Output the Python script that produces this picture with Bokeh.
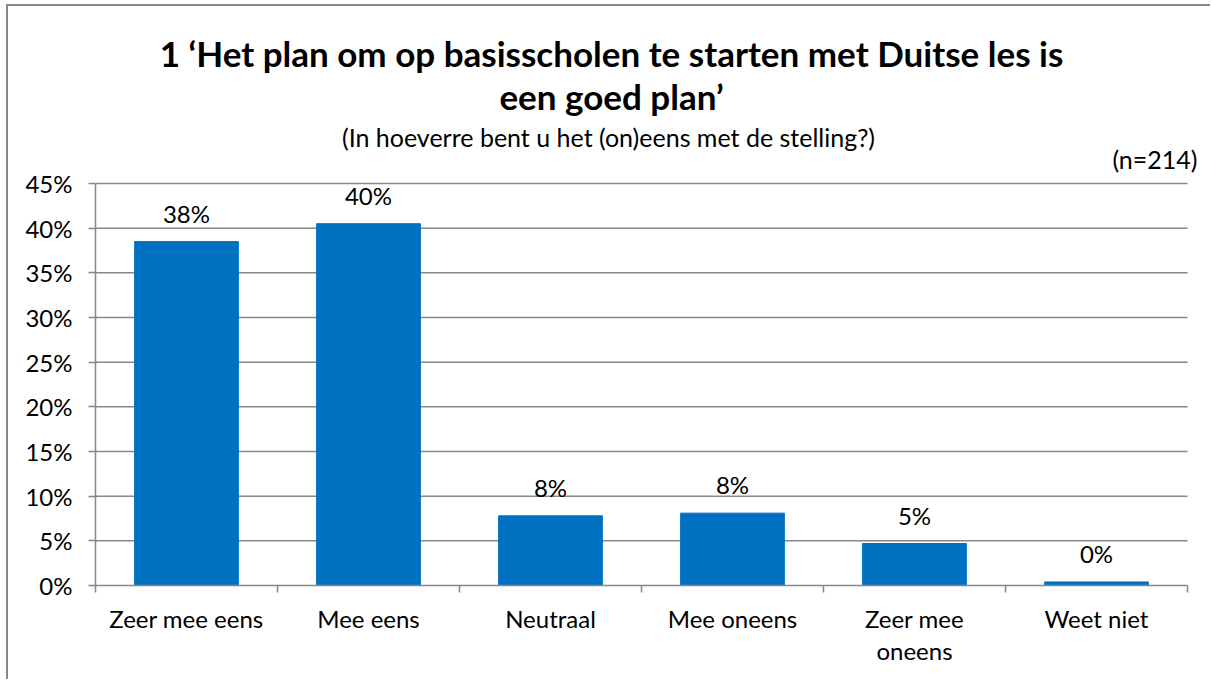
from bokeh.plotting import figure
from bokeh.models import (FixedTicker, NumeralTickFormatter, Label,
                          ColumnDataSource, LabelSet, Range1d)
from bokeh.core.properties import value
from bokeh.embed import file_html
from bokeh.resources import INLINE

categories = ["Zeer mee eens", "Mee eens", "Neutraal", "Mee oneens", "Zeer mee\noneens", "Weet niet"]
values = [0.385, 0.405, 0.078, 0.081, 0.047, 0.004]
value_labels = ["38%", "40%", "8%", "8%", "5%", "0%"]
y_ticks = [0.0, 0.05, 0.10, 0.15, 0.20, 0.25, 0.30, 0.35, 0.40, 0.45]

title1 = "1 \u2018Het plan om op basisscholen te starten met Duitse les is"
title2 = "een goed plan\u2019"
subtitle = "(In hoeverre bent u het (on)eens met de stelling?)"
n_text = "(n=214)"

FONT = "Lato"
GRAY = "#878787"
BLUE = "#0070C0"

n = len(categories)
y_max = y_ticks[-1]
OFF_X, OFF_Y = 8, 6
W, H = 1212 - OFF_X, 681 - OFF_Y
LEFT = 95 - OFF_X
BOTTOM = 96
frame_h = H - BOTTOM
frame_w = W - LEFT
cat_px = 182.0
px_per_y = 402.0 / y_max

x_end = frame_w / cat_px
y_end = frame_h / px_per_y

def ypix(py):
    return (585 - py) / px_per_y

def xpix(px):
    return (px - 95) / cat_px

xs = [i + 0.5 for i in range(n)]
src = ColumnDataSource(dict(x=xs, top=values, lab=value_labels))

p = figure(width=W, height=H, output_backend="svg", toolbar_location=None,
           x_range=Range1d(0, x_end), y_range=Range1d(0, y_end),
           min_border_left=LEFT, min_border_right=0, min_border_top=0,
           min_border_bottom=BOTTOM)
p.outline_line_color = None
p.border_fill_color = "white"
p.margin = (OFF_Y, 0, 0, OFF_X)
p.styles = {"box-shadow": "-2px -2px 0px 0px #878787", "overflow": "hidden"}

p.segment(x0=[0] * len(y_ticks[1:]), x1=[n] * len(y_ticks[1:]), y0=y_ticks[1:], y1=y_ticks[1:],
          line_color=GRAY, line_width=1.5)

p.vbar(x="x", top="top", width=0.57, source=src, color=BLUE)
p.add_layout(LabelSet(x="x", y="top", text="lab", source=src, text_align="center",
                      text_baseline="bottom", y_offset=14, text_font=value(FONT),
                      text_font_size="24px", text_color="#000000"))

p.xgrid.grid_line_color = None
p.ygrid.grid_line_color = None

p.xaxis.bounds = (0, n)
p.xaxis.ticker = FixedTicker(ticks=xs, minor_ticks=list(range(n + 1)))
p.xaxis.major_label_overrides = {x: c for x, c in zip(xs, categories)}
p.xaxis.major_tick_out = 0
p.xaxis.major_tick_in = 0
p.xaxis.minor_tick_out = 7
p.xaxis.minor_tick_in = 0
p.xaxis.minor_tick_line_color = GRAY
p.xaxis.minor_tick_line_width = 1.5
p.xaxis.axis_line_color = GRAY
p.xaxis.axis_line_width = 1.5
p.xaxis.major_label_text_font = FONT
p.xaxis.major_label_text_font_size = "24px"
p.xaxis.major_label_text_color = "#000000"
p.xaxis.major_label_standoff = 11
p.xaxis.major_label_text_line_height = 1.12

p.yaxis.bounds = (0, y_max)
p.yaxis.ticker = FixedTicker(ticks=y_ticks)
p.yaxis.formatter = NumeralTickFormatter(format="0%")
p.yaxis.major_tick_out = 7
p.yaxis.major_tick_in = 0
p.yaxis.minor_tick_line_color = None
p.yaxis.major_tick_line_color = GRAY
p.yaxis.major_tick_line_width = 1.5
p.yaxis.axis_line_color = GRAY
p.yaxis.axis_line_width = 1.5
p.yaxis.major_label_text_font = FONT
p.yaxis.major_label_text_font_size = "24px"
p.yaxis.major_label_text_color = "#000000"
p.yaxis.major_label_standoff = 16

def lab(text, px, py, size, bold=False, align="center"):
    p.add_layout(Label(x=xpix(px), y=ypix(py), text=text,
                       text_align=align, text_baseline="middle", text_font=FONT,
                       text_font_size=size, text_font_style="bold" if bold else "normal",
                       text_color="#000000"))

lab(title1, 611, 52, "35px", bold=True)
lab(title2, 611, 95, "35px", bold=True)
lab(subtitle, 608, 136, "25px")
lab(n_text, 1197, 158, "25px", align="right")

open("out.html", "w").write(file_html(p, INLINE))
